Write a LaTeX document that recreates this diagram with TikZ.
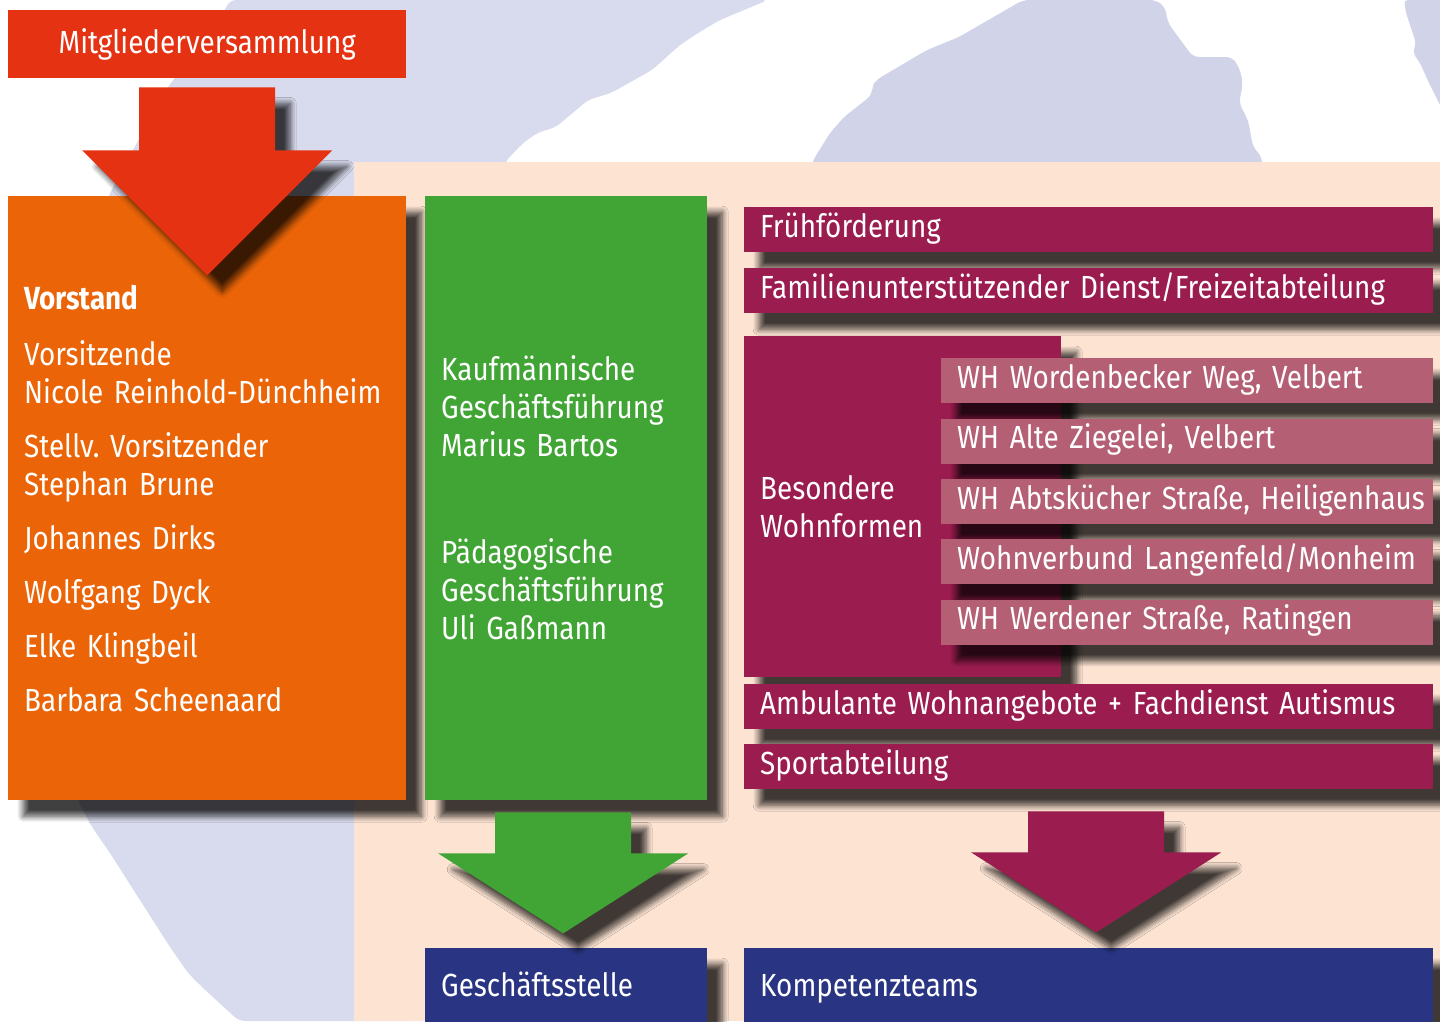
\documentclass[tikz,border=0pt]{standalone}
\usepackage{fontspec}
\setmainfont{Fira Sans}[FakeStretch=0.87]
\usetikzlibrary{shadows.blur,positioning}
\frenchspacing

\definecolor{mvrot}{HTML}{E53212}
\definecolor{vorstandorange}{HTML}{EB6508}
\definecolor{gfgruen}{HTML}{41A535}
\definecolor{weinrot}{HTML}{9B1C4F}
\definecolor{altrosa}{HTML}{B55F75}
\definecolor{dunkelblau}{HTML}{293583}
\definecolor{pfirsich}{HTML}{FCE3D2}
\definecolor{hellblau}{HTML}{D8DBEE}
\definecolor{hellblauB}{HTML}{D1D3E9}

% Blockpfeil: #1 oberer Mittelpunkt, #2 Schaftlaenge, #3 Spitzenlaenge, #4 Farbe
\newcommand{\blockpfeil}[4]{%
  \fill[#4,schatten] (#1) ++(-68,0) -- ++(136,0) -- ++(0,#2) -- ++(57,0)
    -- ++(-125,#3) -- ++(-125,-#3) -- ++(57,0) -- cycle;}

\begin{document}
\begin{tikzpicture}[x=1pt,y=-1pt,
    every node/.style={text=white,font=\fontsize{32}{38}\selectfont},
    schatten/.style={blur shadow={shadow xshift=15pt,shadow yshift=-16pt,
        shadow blur radius=6pt,shadow blur steps=10,shadow opacity=75}},
    kasten/.style={schatten,anchor=north west,inner xsep=16pt,inner ysep=0pt,align=left},
    einzeilig/.style={kasten,text height=23pt,text depth=8pt},
    balken/.style={einzeilig,fill=weinrot,text width=657pt,minimum height=45pt},
    unterbalken/.style={einzeilig,fill=altrosa,text width=460pt,minimum height=45pt}]
    \useasboundingbox (0,0) rectangle (1440,1021);
    % Hintergrund
    \fill[hellblau,rounded corners=6pt] (230,0) -- (768,0) -- (720,20) -- (698,33) -- (680,45)
      -- (652,70) -- (611,93) -- (588,100) -- (556,127) -- (537,133) -- (523,143) -- (505,162)
      -- (420,1021) -- (239,1021) -- (202,987) -- (188,973) -- (170,947) -- (138,897)
      -- (110,853) -- (92,827) -- (78,801) -- (60,600) -- (100,250) -- (108,197) -- (133,150)
      -- (168,87) -- (225,10) -- cycle;
    \fill[hellblauB,rounded corners=6pt] (1023,0) -- (959,37) -- (927,50) -- (876,80) -- (872,87)
      -- (872,95) -- (844,117) -- (830,133) -- (812,162) -- (812,200) -- (1262,200) -- (1262,157)
      -- (1253,147) -- (1248,120) -- (1239,103) -- (1243,83) -- (1239,67) -- (1232,57)
      -- (1193,57) -- (1168,23) -- (1165,7) -- (1156,0) -- cycle;
    \fill[hellblauB,rounded corners=4pt] (1404,0) -- (1406,13) -- (1416,43) -- (1413,53)
      -- (1420,63) -- (1429,83) -- (1445,115) -- (1445,0) -- cycle;
    \fill[pfirsich] (354,162) rectangle (1440,1021);

    % Mitgliederversammlung und Vorstand
    \node[fill=mvrot,anchor=north west,minimum width=398pt,minimum height=68pt,inner sep=0pt]
      (mv) at (8,10) {Mitgliederversammlung};
    \node[kasten,fill=vorstandorange,text width=366pt,minimum height=604pt] (vorstand) at (8,196)
      {\textbf{Vorstand}\\[18pt]
       Vorsitzende\\ Nicole Reinhold-Dünchheim\\[16pt]
       Stellv. Vorsitzender\\ Stephan Brune\\[16pt]
       Johannes Dirks\\[16pt] Wolfgang Dyck\\[16pt] Elke Klingbeil\\[16pt] Barbara Scheenaard};
    \node[kasten,fill=gfgruen,text width=250pt,minimum height=604pt] (gf) at (425,196)
      {Kaufmännische\\ Geschäftsführung\\ Marius Bartos\\[69pt]
       Pädagogische\\ Geschäftsführung\\ Uli Gaßmann};

    % Abteilungen
    \node[balken] (fruehf) at (744,207) {Frühförderung};
    \node[balken] (fud) at (744,268) {Familienunterstützender Dienst/Freizeitabteilung};
    \node[kasten,fill=weinrot,text width=285pt,minimum height=341pt] (bw) at (744,336)
      {Besondere\\ Wohnformen};
    \foreach \wh [count=\i] in {{WH Wordenbecker Weg, Velbert},{WH Alte Ziegelei, Velbert},
        {WH Abtskücher Straße, Heiligenhaus},{Wohnverbund Langenfeld/Monheim},
        {WH Werdener Straße, Ratingen}}
      \node[unterbalken] (wh\i) at (941,{358+60.4*(\i-1)}) {\mbox{\wh}};
    \node[balken] (awo) at (744,684) {Ambulante Wohnangebote + Fachdienst Autismus};
    \node[balken] (sport) at (744,744) {Sportabteilung};

    % Geschaeftsstelle und Kompetenzteams
    \node[einzeilig,fill=dunkelblau,text width=250pt,minimum height=82pt] (gs) at (425,948)
      {Geschäftsstelle};
    \node[einzeilig,fill=dunkelblau,text width=657pt,minimum height=82pt] (kt) at (744,948)
      {Kompetenzteams};

    % Pfeile
    \blockpfeil{[yshift=-9pt]mv.south}{63}{125}{mvrot}
    \blockpfeil{[xshift=-3pt,yshift=-12pt]gf.south}{41}{80}{gfgruen}
    \blockpfeil{[xshift=7.5pt,yshift=-22pt]sport.south}{41}{80}{weinrot}
\end{tikzpicture}
\end{document}
